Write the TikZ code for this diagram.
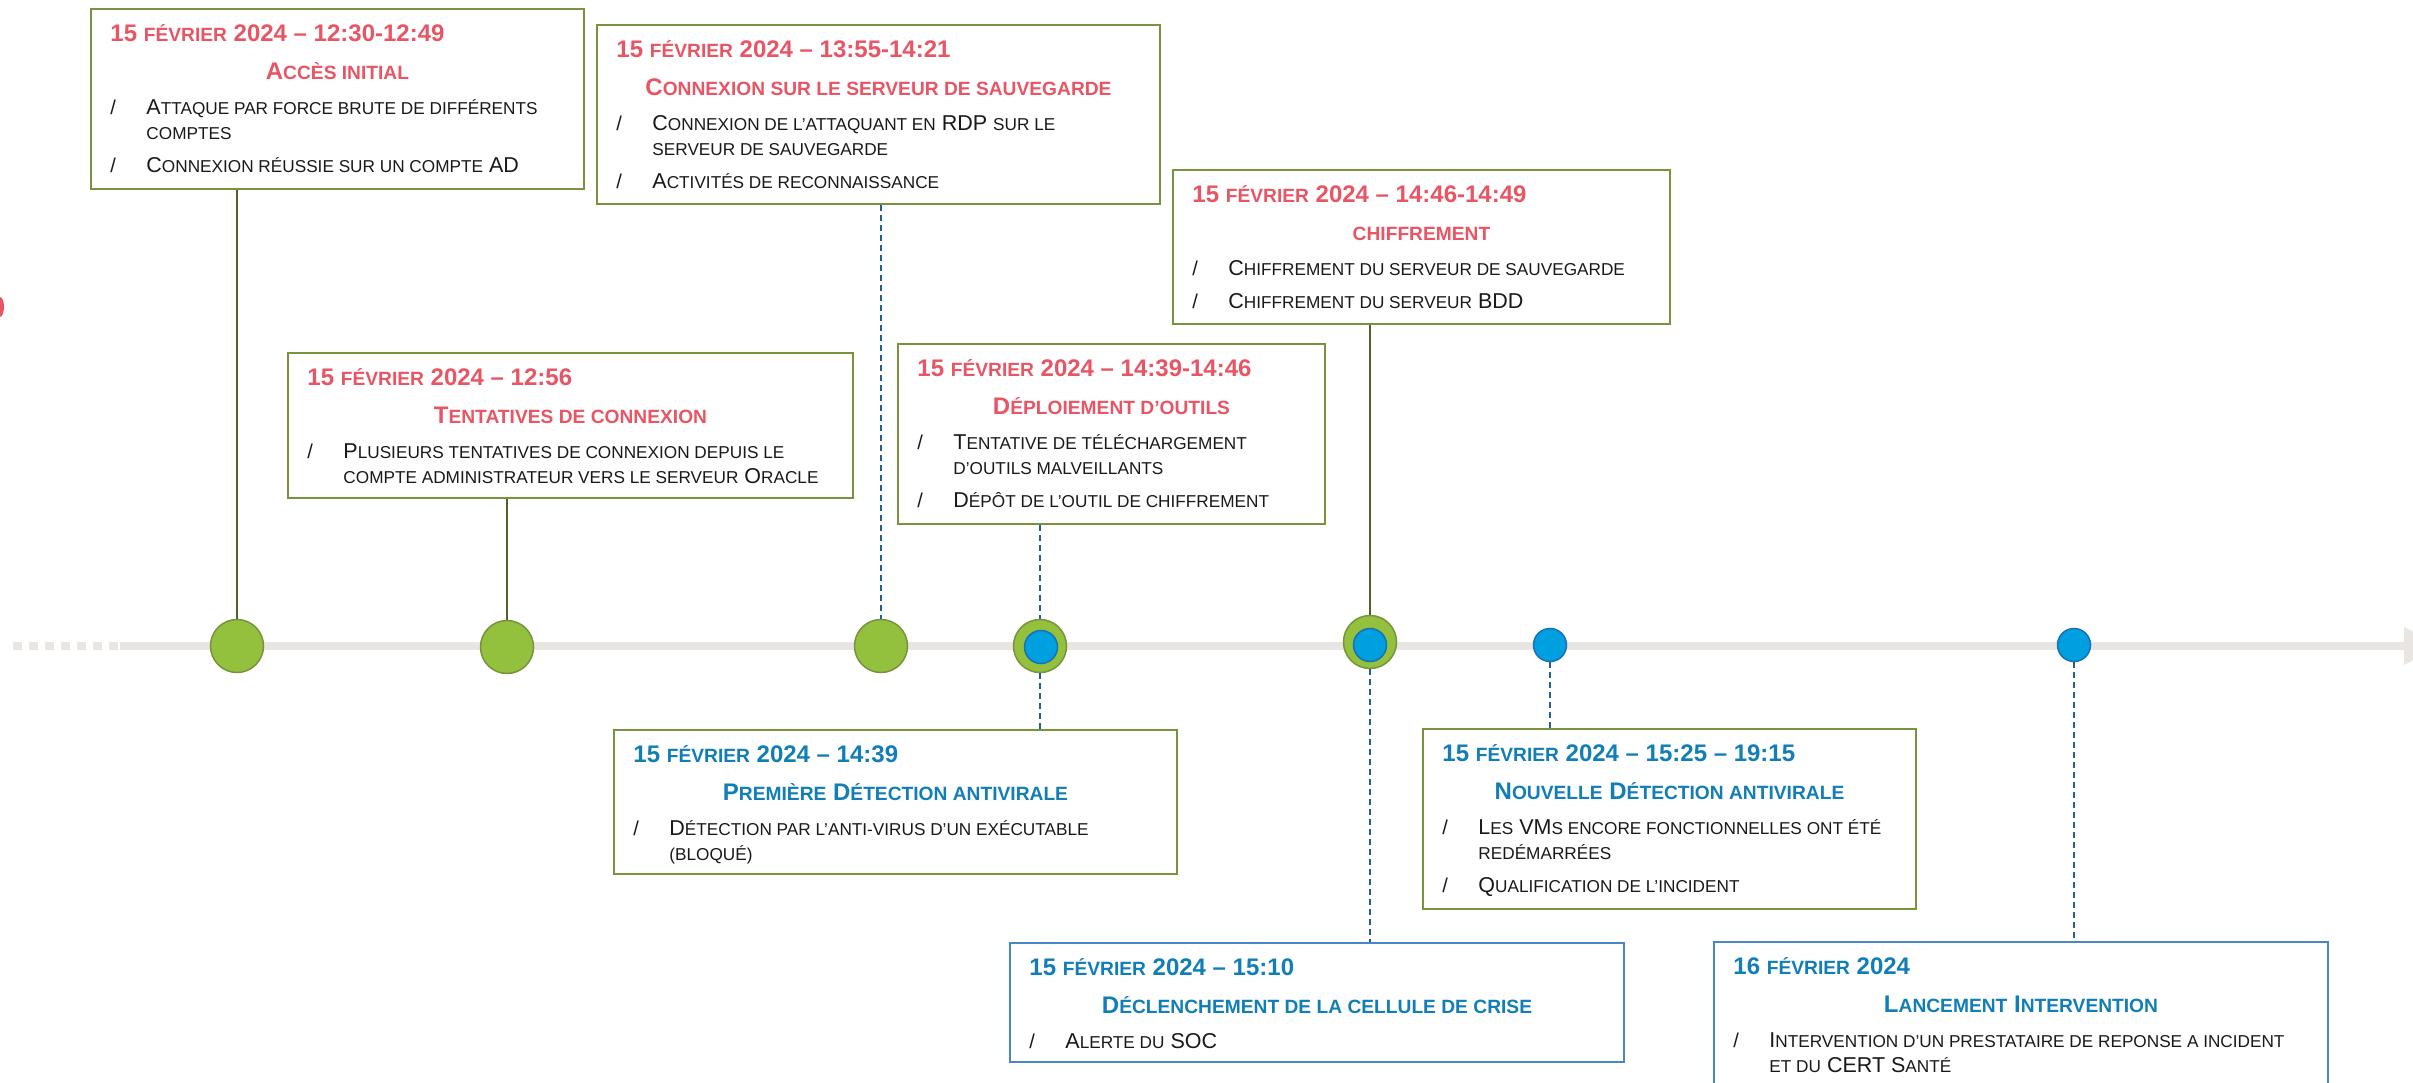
\documentclass[tikz,border=0pt]{standalone}
\usepackage{fontspec}
\setmainfont{Liberation Sans}
\usetikzlibrary{fit,calc}

\definecolor{redtxt}{RGB}{232,85,100}
\definecolor{bluetxt}{RGB}{18,126,184}
\definecolor{olive}{RGB}{119,147,60}
\definecolor{oliveline}{RGB}{79,98,40}
\definecolor{boxblue}{RGB}{74,134,197}
\definecolor{dashblue}{RGB}{31,95,154}
\definecolor{dotgreen}{RGB}{148,193,61}
\definecolor{dotblue}{RGB}{0,160,224}
\definecolor{dotblueedge}{RGB}{28,111,181}
\definecolor{band}{RGB}{232,229,226}

\makeatletter
\newcommand\sm[1]{{\fontsize{\fpeval{0.8*\f@size}}{\f@baselineskip}\selectfont\MakeUppercase{#1}}}
\makeatother
\newcommand\slashmark{{\fontsize{20}{25}\selectfont/}}

\tikzset{
  evbox/.style={draw=olive, line width=1.5pt, inner sep=0pt, fill=white},
  datetxt/.style={font=\bfseries\fontsize{24}{28}\selectfont, inner sep=0pt, anchor=base west},
  ttltxt/.style={font=\bfseries\fontsize{24}{28}\selectfont, inner sep=0pt, anchor=base},
  bodytxt/.style={font=\fontsize{21.5}{25}\selectfont, text=black!90, inner sep=0pt, anchor=base west},
  gdot/.style={circle, draw=olive, line width=1.5pt, fill=dotgreen, minimum size=53pt, inner sep=0pt},
  bdot/.style={circle, draw=dotblueedge, line width=1.5pt, fill=dotblue, minimum size=33pt, inner sep=0pt},
  gline/.style={oliveline, line width=2pt},
  bline/.style={dashblue, line width=2pt, dash pattern=on 6pt off 4pt},
}

\begin{document}
\begin{tikzpicture}[x=1pt, y=-1pt]
\path[fill=white] (0,0) rectangle (2413,1083);
\useasboundingbox (0,0) rectangle (2413,1083);
\fill[redtxt] (0,307) ellipse (4 and 10);

% Timeline
\foreach \i in {0,...,6}
  \fill[band] (13+16*\i,642) rectangle +(8.6,8);
\fill[band] (120,642) rectangle (2404,650);
\fill[band] (2404,627) -- (2440,646) -- (2404,665) -- cycle;

% Milestones
\node[gdot] (g1) at (237,646) {};
\node[gdot] (g2) at (507,647) {};
\node[gdot] (g3) at (881,646) {};
\node[gdot] (g4) at (1040,646) {};
\node[bdot] (a1) at (1041,647) {};
\node[gdot] (g5) at (1370,642) {};
\node[bdot] (a2) at (1370,645) {};
\node[bdot] (a3) at (1550,645) {};
\node[bdot] (a4) at (2074,645) {};

% Attack events (above)
\node[evbox, fit={(91,9) (584,189)}] (b1) {};
\node[datetxt, text=redtxt] (b1d) at ([shift={(20pt,-33.5pt)}]b1.north west)
  {15 \sm{février} 2024 – 12:30-12:49};
\node[ttltxt, text=redtxt] (b1t) at ([yshift=-71.5pt]b1.north) {A\sm{ccès initial}};
\node[bodytxt] (b1b) at ([shift={(20pt,-106.5pt)}]b1.north west)
  {\begin{tabular}[t]{@{}p{36pt}@{}l@{}}
   \slashmark & A\sm{ttaque par force brute de différents}\\
              & \sm{comptes}\\[8pt]
   \slashmark & C\sm{onnexion réussie sur un compte} AD
   \end{tabular}};

\node[evbox, fit={(288,353) (853,498)}] (b2) {};
\node[datetxt, text=redtxt] (b2d) at ([shift={(20pt,-33.5pt)}]b2.north west)
  {15 \sm{février} 2024 – 12:56};
\node[ttltxt, text=redtxt] (b2t) at ([yshift=-71.5pt]b2.north) {T\sm{entatives de connexion}};
\node[bodytxt] (b2b) at ([shift={(20pt,-106.5pt)}]b2.north west)
  {\begin{tabular}[t]{@{}p{36pt}@{}l@{}}
   \slashmark & P\sm{lusieurs tentatives de connexion depuis le}\\
              & \sm{compte administrateur vers le serveur} O\sm{racle}
   \end{tabular}};

\node[evbox, fit={(597,25) (1160,204)}] (b3) {};
\node[datetxt, text=redtxt] (b3d) at ([shift={(20pt,-33.5pt)}]b3.north west)
  {15 \sm{février} 2024 – 13:55-14:21};
\node[ttltxt, text=redtxt] (b3t) at ([yshift=-71.5pt]b3.north) {C\sm{onnexion sur le serveur de sauvegarde}};
\node[bodytxt] (b3b) at ([shift={(20pt,-106.5pt)}]b3.north west)
  {\begin{tabular}[t]{@{}p{36pt}@{}l@{}}
   \slashmark & C\sm{onnexion de l'attaquant en} RDP \sm{sur le}\\
              & \sm{serveur de sauvegarde}\\[8pt]
   \slashmark & A\sm{ctivités de reconnaissance}
   \end{tabular}};

\node[evbox, fit={(898,344) (1325,524)}] (b4) {};
\node[datetxt, text=redtxt] (b4d) at ([shift={(20pt,-33.5pt)}]b4.north west)
  {15 \sm{février} 2024 – 14:39-14:46};
\node[ttltxt, text=redtxt] (b4t) at ([yshift=-71.5pt]b4.north) {D\sm{éploiement d’outils}};
\node[bodytxt] (b4b) at ([shift={(20pt,-106.5pt)}]b4.north west)
  {\begin{tabular}[t]{@{}p{36pt}@{}l@{}}
   \slashmark & T\sm{entative de téléchargement}\\
              & \sm{d’outils malveillants}\\[8pt]
   \slashmark & D\sm{épôt de l’outil de chiffrement}
   \end{tabular}};

\node[evbox, fit={(1173,170) (1670,324)}] (b5) {};
\node[datetxt, text=redtxt] (b5d) at ([shift={(20pt,-33.5pt)}]b5.north west)
  {15 \sm{février} 2024 – 14:46-14:49};
\node[ttltxt, text=redtxt] (b5t) at ([yshift=-71.5pt]b5.north) {\sm{chiffrement}};
\node[bodytxt] (b5b) at ([shift={(20pt,-106.5pt)}]b5.north west)
  {\begin{tabular}[t]{@{}p{36pt}@{}l@{}}
   \slashmark & C\sm{hiffrement du serveur de sauvegarde}\\[8pt]
   \slashmark & C\sm{hiffrement du serveur} BDD
   \end{tabular}};

% Response events (below)
\node[evbox, fit={(614,730) (1177,874)}] (b6) {};
\node[datetxt, text=bluetxt] (b6d) at ([shift={(20pt,-33.5pt)}]b6.north west)
  {15 \sm{février} 2024 – 14:39};
\node[ttltxt, text=bluetxt] (b6t) at ([yshift=-71.5pt]b6.north) {P\sm{remière} D\sm{étection antivirale}};
\node[bodytxt] (b6b) at ([shift={(20pt,-106.5pt)}]b6.north west)
  {\begin{tabular}[t]{@{}p{36pt}@{}l@{}}
   \slashmark & D\sm{étection par l’anti-virus d’un exécutable}\\
              & \sm{(bloqué)}
   \end{tabular}};

\node[evbox, draw=boxblue, fit={(1010,943) (1624,1062)}] (b7) {};
\node[datetxt, text=bluetxt] (b7d) at ([shift={(20pt,-33.5pt)}]b7.north west)
  {15 \sm{février} 2024 – 15:10};
\node[ttltxt, text=bluetxt] (b7t) at ([yshift=-71.5pt]b7.north) {D\sm{éclenchement de la cellule de crise}};
\node[bodytxt] (b7b) at ([shift={(20pt,-106.5pt)}]b7.north west)
  {\begin{tabular}[t]{@{}p{36pt}@{}l@{}}
   \slashmark & A\sm{lerte du} SOC
   \end{tabular}};

\node[evbox, fit={(1423,729) (1916,909)}] (b8) {};
\node[datetxt, text=bluetxt] (b8d) at ([shift={(20pt,-33.5pt)}]b8.north west)
  {15 \sm{février} 2024 – 15:25 – 19:15};
\node[ttltxt, text=bluetxt] (b8t) at ([yshift=-71.5pt]b8.north) {N\sm{ouvelle} D\sm{étection antivirale}};
\node[bodytxt] (b8b) at ([shift={(20pt,-106.5pt)}]b8.north west)
  {\begin{tabular}[t]{@{}p{36pt}@{}l@{}}
   \slashmark & L\sm{es} VM\sm{s encore fonctionnelles ont été}\\
              & \sm{redémarrées}\\[8pt]
   \slashmark & Q\sm{ualification de l'incident}
   \end{tabular}};

\node[evbox, draw=boxblue, fit={(1714,942) (2328,1100)}] (b9) {};
\node[datetxt, text=bluetxt] (b9d) at ([shift={(20pt,-33.5pt)}]b9.north west)
  {16 \sm{février} 2024};
\node[ttltxt, text=bluetxt] (b9t) at ([yshift=-71.5pt]b9.north) {L\sm{ancement} I\sm{ntervention}};
\node[bodytxt] (b9b) at ([shift={(20pt,-106.5pt)}]b9.north west)
  {\begin{tabular}[t]{@{}p{36pt}@{}l@{}}
   \slashmark & I\sm{ntervention d’un prestataire de reponse a incident}\\
              & \sm{et du} CERT S\sm{anté}
   \end{tabular}};

% Links
\draw[gline] (b1.south -| g1) -- (g1);
\draw[gline] (b2.south -| g2) -- (g2);
\draw[bline] (b3.south -| g3) -- (g3);
\draw[bline] (b4.south -| g4) -- (g4);
\draw[gline] (b5.south -| g5) -- (g5);
\draw[bline] (g4) -- (b6.north -| g4);
\draw[bline] (g5) -- (b7.north -| g5);
\draw[bline] (a3) -- (b8.north -| a3);
\draw[bline] (a4) -- (b9.north -| a4);
\end{tikzpicture}
\end{document}
